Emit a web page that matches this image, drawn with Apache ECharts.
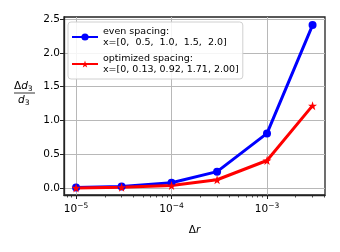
<!DOCTYPE html>
<html><head><meta charset="utf-8">
<script src="https://cdn.jsdelivr.net/npm/echarts@6/dist/echarts.min.js"></script>
<style>html,body{margin:0;padding:0;background:#fff}#c{width:340px;height:252px}</style>
</head><body><div id="c"></div>
<script>
const dr = [1e-5, 3e-5, 1e-4, 3e-4, 1e-3, 3e-3];
const evenVals = [0.01, 0.025, 0.08, 0.245, 0.81, 2.41];
const optVals = [0.005, 0.015, 0.04, 0.125, 0.41, 1.22];
const xMajor = [1e-5, 1e-4, 1e-3];
const xMinor = [8e-6, 9e-6, 2e-5, 3e-5, 4e-5, 5e-5, 6e-5, 7e-5, 8e-5, 9e-5,
  2e-4, 3e-4, 4e-4, 5e-4, 6e-4, 7e-4, 8e-4, 9e-4, 2e-3, 3e-3, 4e-3];
const yTicks = [0, 0.5, 1.0, 1.5, 2.0, 2.5];
const legendNames = ['even spacing:\nx=[0,  0.5,  1.0,  1.5,  2.0]', 'optimized spacing:\nx=[0, 0.13, 0.92, 1.71, 2.00]'];
const FONT = 'DejaVu Sans';
const xmin = 7.48e-6, xmax = 4.05e-3;
const star = 'path://M50,0 L61.8,35.1 L98.1,35.1 L68.8,56.7 L79.4,91 L50,70 L20.6,91 L31.2,56.7 L1.9,35.1 L38.2,35.1 Z';
const chart = echarts.init(document.getElementById('c'), null, {renderer: 'canvas'});
chart.setOption({
  animation: false,
  textStyle: {fontFamily: FONT},
  grid: {left: 64, right: 15, top: 17, bottom: 57, show: true, borderColor: '#222', borderWidth: 1.3, backgroundColor: 'transparent'},
  legend: {
    left: 68, top: 22, orient: 'vertical', itemWidth: 26, itemHeight: 9, itemGap: 5,
    padding: [4, 4, 4, 3], backgroundColor: 'rgba(255,255,255,0.85)', borderColor: '#d0d0d0', borderWidth: 1, borderRadius: 3,
    textStyle: {fontFamily: FONT, fontSize: 9.5, lineHeight: 11, color: '#000'},
    data: legendNames
  },
  xAxis: [{
    type: 'log', min: xmin, max: xmax, logBase: 10,
    axisLine: {show: true, onZero: false, lineStyle: {color: '#222', width: 1.3}},
    axisTick: {show: true, length: 4, customValues: xMajor, lineStyle: {color: '#222', width: 1}},
    axisLabel: {customValues: xMajor, margin: 7,
      formatter: v => '{n|10}{s|−' + Math.round(-Math.log10(v)) + '}',
      rich: {n: {fontFamily: FONT, fontSize: 10.5, color: '#000'}, s: {fontFamily: FONT, fontSize: 7.5, color: '#000', padding: [0, 0, 6, 0]}}},
    splitLine: {show: true, lineStyle: {color: '#b8b8b8', width: 1}},
    name: '{u|Δ}{i|r}', nameLocation: 'middle', nameGap: 30,
    nameTextStyle: {rich: {u: {fontFamily: FONT, fontSize: 10.5, color: '#000'}, i: {fontFamily: FONT, fontStyle: 'italic', fontSize: 10.5, color: '#000'}}}
  }, {
    type: 'log', min: xmin, max: xmax, logBase: 10, position: 'bottom',
    axisLine: {show: false, onZero: false},
    axisTick: {show: true, length: 2.5, customValues: xMinor, lineStyle: {color: '#222', width: 0.8}},
    axisLabel: {show: false},
    splitLine: {show: false}
  }],
  yAxis: {
    type: 'value', min: -0.1, max: 2.53,
    axisLine: {show: true, onZero: false, lineStyle: {color: '#222', width: 1.3}},
    axisTick: {show: true, length: 4, customValues: yTicks, lineStyle: {color: '#222', width: 1}},
    axisLabel: {customValues: yTicks, fontFamily: FONT, fontSize: 10.5, color: '#000', margin: 4, formatter: v => v.toFixed(1)},
    splitLine: {show: true, lineStyle: {color: '#b8b8b8', width: 1}}
  },
  graphic: [
    {type: 'text', left: 14, top: 81, style: {text: '{u|Δ}{i|d}{s|3}', rich: {
      u: {fontFamily: FONT, fontSize: 10.5, fill: '#000'},
      i: {fontFamily: FONT, fontStyle: 'italic', fontSize: 10.5, fill: '#000'},
      s: {fontFamily: FONT, fontSize: 7.5, fill: '#000', padding: [5, 0, 0, 0]}}}},
    {type: 'line', shape: {x1: 14, y1: 93, x2: 35, y2: 93}, style: {stroke: '#000', lineWidth: 0.8}},
    {type: 'text', left: 18, top: 95, style: {text: '{i|d}{s|3}', rich: {
      i: {fontFamily: FONT, fontStyle: 'italic', fontSize: 10.5, fill: '#000'},
      s: {fontFamily: FONT, fontSize: 7.5, fill: '#000', padding: [5, 0, 0, 0]}}}}
  ],
  series: [{
    name: legendNames[0], type: 'line', xAxisIndex: 0,
    data: dr.map((x, i) => [x, evenVals[i]]),
    color: '#0000ff', lineStyle: {width: 3, color: '#0000ff'},
    symbol: 'circle', symbolSize: 8, itemStyle: {color: '#0000ff'}, showSymbol: true
  }, {
    name: legendNames[1], type: 'line', xAxisIndex: 0,
    data: dr.map((x, i) => [x, optVals[i]]),
    color: '#ff0000', lineStyle: {width: 3, color: '#ff0000'},
    symbol: star, symbolSize: 9, itemStyle: {color: '#ff0000'}, showSymbol: true
  }]
});
</script></body></html>
